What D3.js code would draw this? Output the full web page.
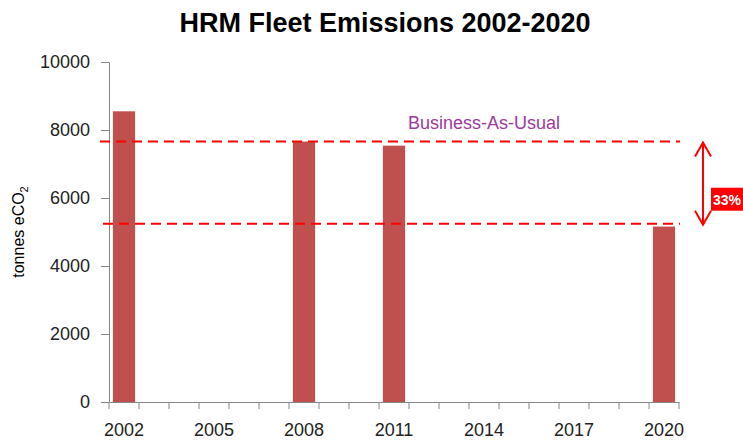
<!DOCTYPE html>
<html>
<head>
<meta charset="utf-8">
<script src="https://cdn.jsdelivr.net/npm/d3@7"></script>
<style>
    body { margin: 0; background: #fff; }
    svg { display: block; font-family: "Liberation Sans", Arial, sans-serif; }
</style>
</head>
<body>
<script>
(function(){
    //chart data
    var years = [2002, 2003, 2004, 2005, 2006, 2007, 2008, 2009, 2010, 2011,
                 2012, 2013, 2014, 2015, 2016, 2017, 2018, 2019, 2020];
    var labelYears = [2002, 2005, 2008, 2011, 2014, 2017, 2020];
    var barYears = [2002, 2008, 2011, 2020];
    var barValues = [8550, 7660, 7540, 5160];
    var yTicks = [0, 2000, 4000, 6000, 8000, 10000];
    var bauValue = 7660,     //business-as-usual line
        targetValue = 5240,  //target line
        reductionLabel = "33%";

    window.onload = setChart();

    function setChart(){
        var width = 743,
            height = 440,
            left = 109,
            right = 679,
            top = 62,
            bottom = 402;

        var svg = d3.select("body")
            .append("svg")
            .attr("width", width)
            .attr("height", height);

        //scales
        var x = d3.scaleBand()
            .domain(years)
            .range([left, right])
            .padding(0);

        var y = d3.scaleLinear()
            .domain([0, 10000])
            .range([bottom, top]);

        var barW = x.bandwidth() * 0.74;

        //bars
        var bars = barYears.map(function(yr, i){ return {year: yr, value: barValues[i]}; });
        svg.selectAll(".bar")
            .data(bars)
            .enter()
            .append("rect")
            .attr("class", "bar")
            .attr("x", function(d){ return x(d.year) + (x.bandwidth() - barW) / 2; })
            .attr("width", barW)
            .attr("y", function(d){ return y(d.value); })
            .attr("height", function(d){ return y(0) - y(d.value); })
            .style("fill", "#C0504D");

        //y axis
        var yAxis = d3.axisLeft(y)
            .tickValues(yTicks)
            .tickFormat(d3.format("d"))
            .tickSize(8)
            .tickPadding(11)
            .tickSizeOuter(0);
        var gy = svg.append("g")
            .attr("transform", "translate(" + left + ",0)")
            .call(yAxis);
        gy.select(".domain").attr("stroke", "#868686");
        gy.selectAll(".tick line").attr("stroke", "#868686");
        gy.selectAll(".tick text")
            .attr("fill", "#222")
            .style("font-size", "18px");

        //x axis: labels every third year
        var xAxis = d3.axisBottom(x)
            .tickValues(labelYears)
            .tickSize(0)
            .tickPadding(21)
            .tickSizeOuter(0);
        var gx = svg.append("g")
            .attr("transform", "translate(0," + bottom + ")")
            .call(xAxis);
        gx.select(".domain").attr("stroke", "#868686");
        gx.selectAll(".tick text")
            .attr("fill", "#222")
            .style("font-size", "18px");

        //x tick marks on category boundaries
        var bounds = years.map(function(yr){ return x(yr); }).concat([x.range()[1]]);
        gx.selectAll(".bound")
            .data(bounds)
            .enter()
            .append("line")
            .attr("class", "bound")
            .attr("x1", function(d){ return d; })
            .attr("x2", function(d){ return d; })
            .attr("y1", 0)
            .attr("y2", 7)
            .attr("stroke", "#868686");

        //reference lines
        svg.append("line")
            .attr("x1", left - 9).attr("x2", right + 1)
            .attr("y1", y(bauValue)).attr("y2", y(bauValue))
            .attr("stroke", "#FF0000").attr("stroke-width", 2)
            .attr("stroke-dasharray", "10,6");
        svg.append("line")
            .attr("x1", left - 6).attr("x2", right + 1)
            .attr("y1", y(targetValue)).attr("y2", y(targetValue))
            .attr("stroke", "#FF0000").attr("stroke-width", 2)
            .attr("stroke-dasharray", "10,6");

        svg.append("text")
            .attr("x", 484)
            .attr("y", y(bauValue) - 13)
            .attr("text-anchor", "middle")
            .attr("fill", "#9B3A9B")
            .style("font-size", "18px")
            .text("Business-As-Usual");

        //double arrow showing reduction
        var ax = 703,
            ay1 = y(bauValue) + 1,
            ay2 = y(targetValue) + 1;
        svg.append("line")
            .attr("x1", ax).attr("x2", ax)
            .attr("y1", ay1).attr("y2", ay2)
            .attr("stroke", "#FF0000").attr("stroke-width", 2);
        svg.append("path")
            .attr("d", "M" + (ax - 8) + "," + (ay1 + 14) + "L" + ax + "," + ay1 + "L" + (ax + 8) + "," + (ay1 + 14))
            .attr("fill", "none").attr("stroke", "#FF0000").attr("stroke-width", 2);
        svg.append("path")
            .attr("d", "M" + (ax - 8) + "," + (ay2 - 14) + "L" + ax + "," + ay2 + "L" + (ax + 8) + "," + (ay2 - 14))
            .attr("fill", "none").attr("stroke", "#FF0000").attr("stroke-width", 2);

        //percentage label
        var my = (ay1 + ay2) / 2;
        svg.append("rect")
            .attr("x", 711).attr("y", my + 4)
            .attr("width", 40).attr("height", 23)
            .attr("fill", "#FF0000");
        svg.append("text")
            .attr("x", 713)
            .attr("y", my + 21)
            .attr("fill", "#fff")
            .style("font-size", "14px")
            .style("font-weight", "bold")
            .text(reductionLabel);

        //y axis title
        var yt = svg.append("text")
            .attr("transform", "translate(24,232) rotate(-90)")
            .attr("text-anchor", "middle")
            .attr("fill", "#000")
            .style("font-size", "16px");
        yt.append("tspan").text("tonnes eCO");
        yt.append("tspan").attr("dy", 4).style("font-size", "11px").text("2");

        //title
        svg.append("text")
            .attr("x", 385)
            .attr("y", 32)
            .attr("text-anchor", "middle")
            .attr("fill", "#000")
            .style("font-size", "27px")
            .style("font-weight", "bold")
            .text("HRM Fleet Emissions 2002-2020");
    };
})();
</script>
</body>
</html>
